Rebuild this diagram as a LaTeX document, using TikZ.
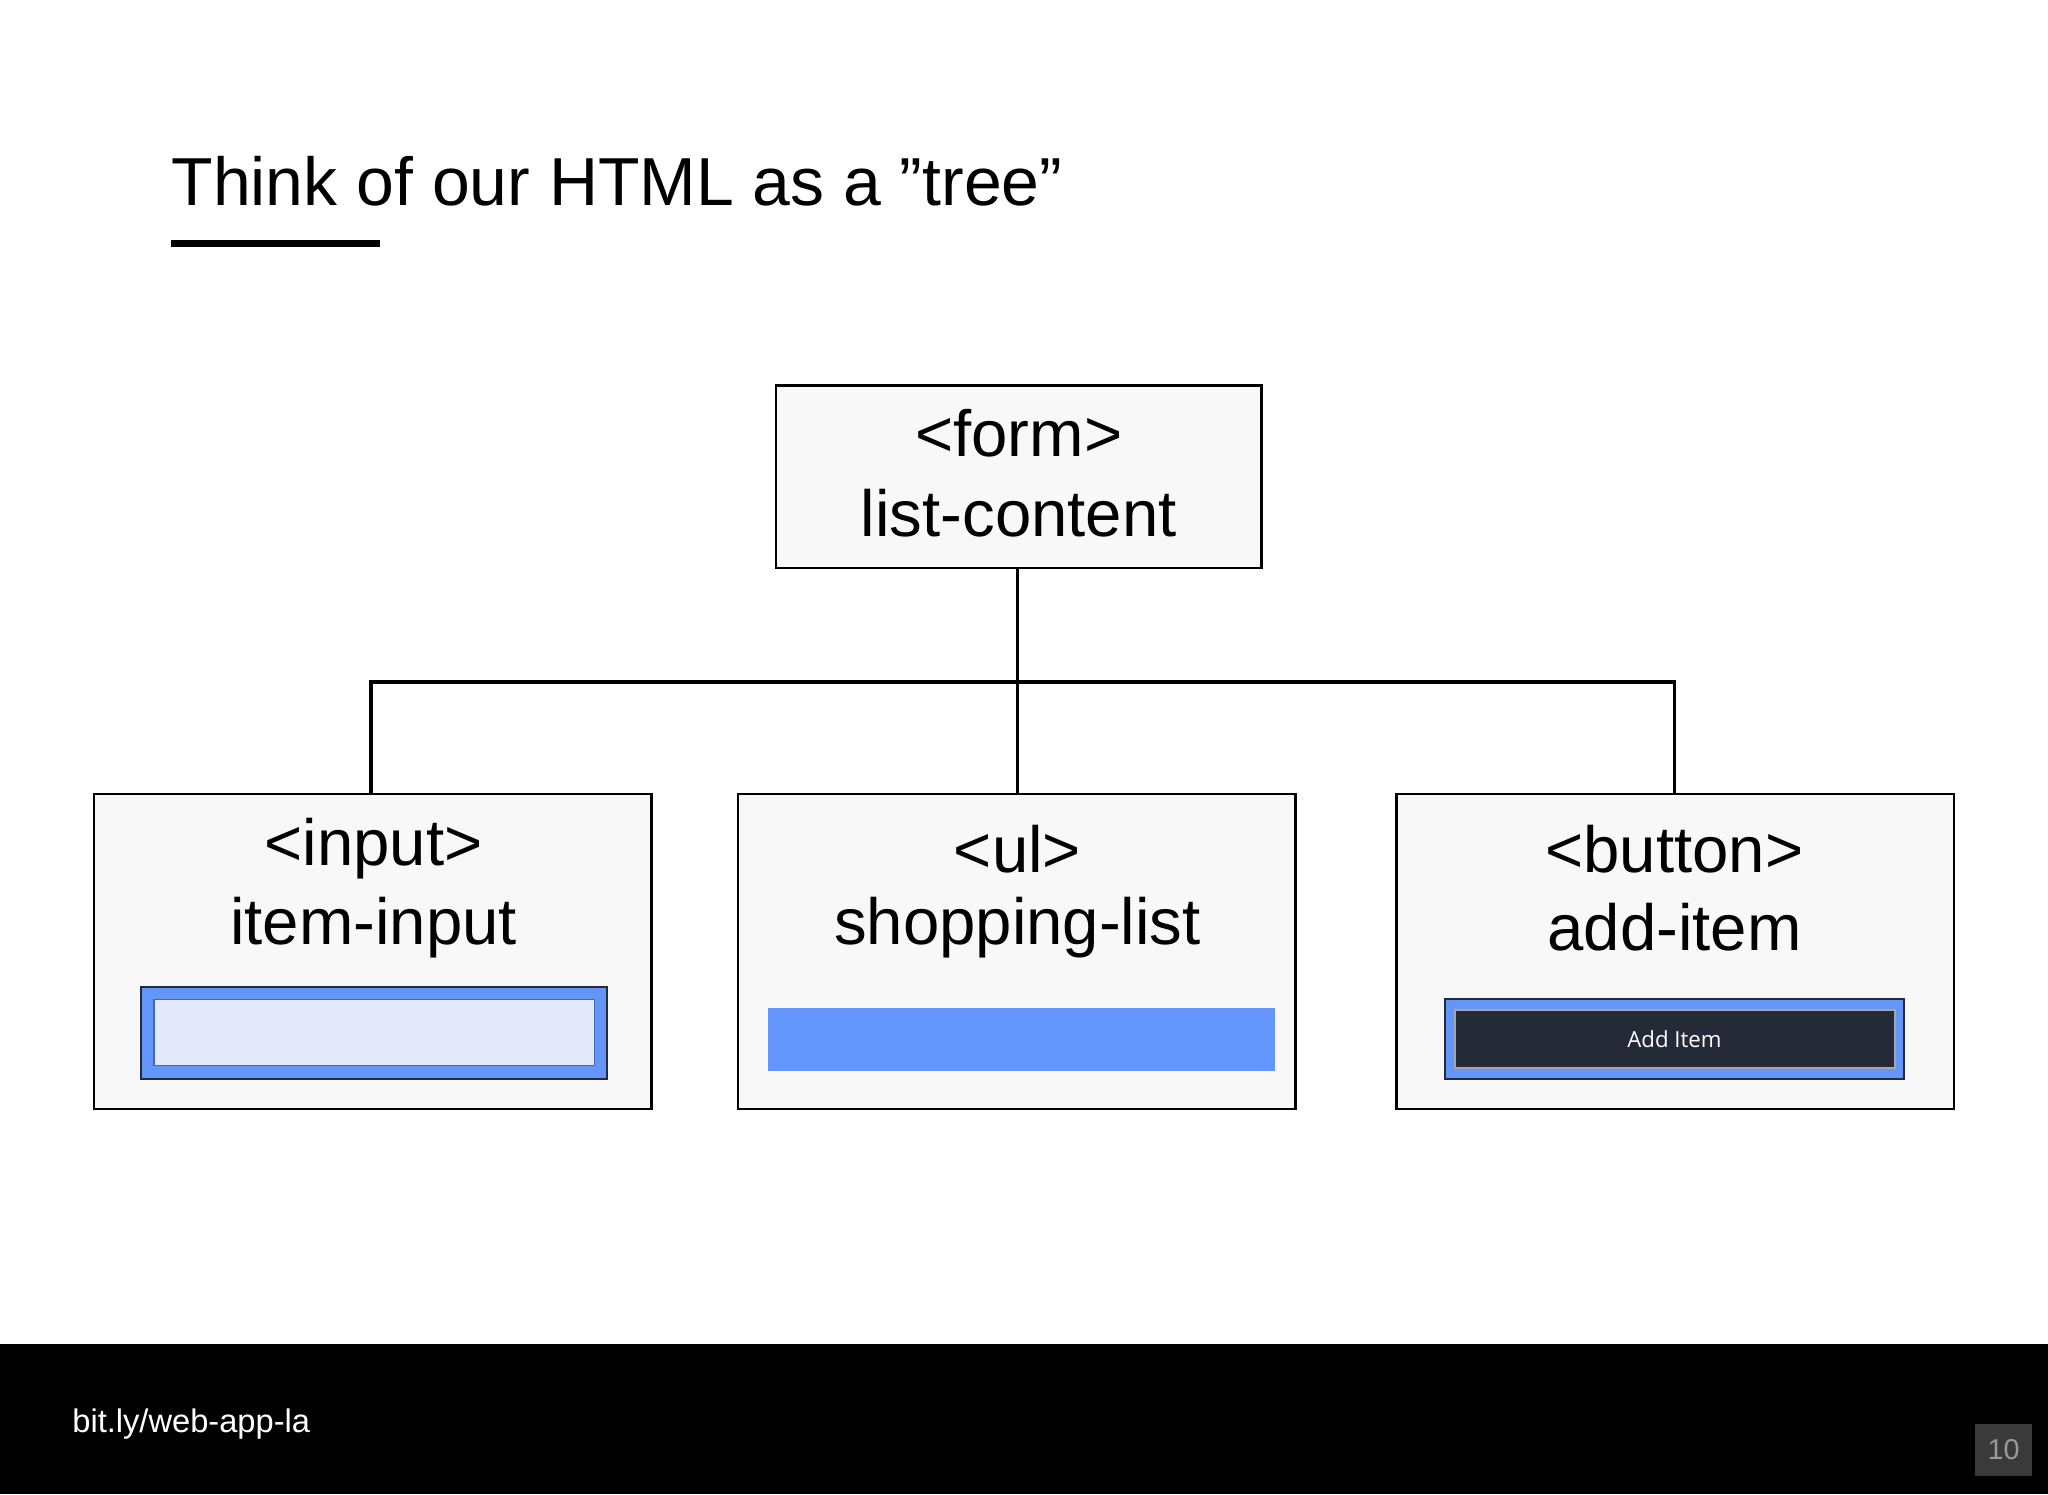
\documentclass[tikz,border=0pt]{standalone}
\usepackage{fontspec}
\setmainfont{Liberation Sans}
\newfontfamily\btnfont{Open Sans}
\definecolor{boxfill}{HTML}{F7F8F7}
\definecolor{blu}{HTML}{6495FA}
\definecolor{lightblu}{HTML}{E3E9FB}
\definecolor{dark}{HTML}{242A38}
\definecolor{pgnum}{HTML}{3A3A3A}
\tikzset{
 elbox/.style={draw=black,fill=boxfill,line width=1pt},
 lbl/.style={font=\fontsize{25}{30}\selectfont,align=center,inner sep=0},
 conn/.style={line width=1.5pt}
}
\begin{document}
\begin{tikzpicture}[x=0.5pt,y=-0.5pt]
\useasboundingbox (0,0) rectangle (1568,1144);
\fill[white] (0,0) rectangle (1568,1144);
\node[anchor=base west,inner sep=0,font=\fontsize{26}{30}\selectfont] (title) at (131,157) {Think of our HTML as a "tree"};
\fill (131,183.5) rectangle (291,189);
% form
\draw[elbox] (594,295) rectangle (966,435);
\node[lbl] (form) at (780,365) {};
\node[lbl] at (780,332) {<form>};
\node[lbl] at (780,393) {list-content};
% children
\draw[elbox] (72,608) rectangle (499,849);
\draw[elbox] (565,608) rectangle (992,849);
\draw[elbox] (1069,608) rectangle (1496,849);
\coordinate (ftop) at (779,435);
\coordinate (j) at (779,522);
\coordinate (c1) at (284,608);
\coordinate (c2) at (779,608);
\coordinate (c3) at (1282,608);
\draw[conn] (ftop) -- (j);
\draw[conn] (c1) |- (c3 |- j) -- (c3);
\draw[conn] (j) -- (c2);
\node[lbl] at (286,650) {<input>};
\node[lbl] at (286,710) {item-input};
\node[lbl] at (779,650) {<ul>};
\node[lbl] at (779,710) {shopping-list};
\node[lbl] at (1282,650) {<button>};
\node[lbl] at (1282,710) {add-item};
% input widget
\draw[fill=blu,draw=dark,line width=0.8pt] (108,756) rectangle (465,826);
\draw[fill=lightblu,draw=blu!70!black,line width=0.5pt] (118,765) rectangle (455,816);
% ul bar
\fill[blu] (588,772) rectangle (976,820);
% button
\draw[fill=blu,draw=dark,line width=0.8pt] (1106,765) rectangle (1458,826);
\draw[fill=dark,draw=gray!70,line width=0.8pt] (1114,773) rectangle (1451,818);
\node[text=white,font=\btnfont\fontsize{8.5}{10}\selectfont] (btn) at (1282,795.5) {Add Item};
% footer
\fill[black] (0,1029) rectangle (1568,1144);
\node[anchor=west,text=white,inner sep=0,font=\fontsize{12.5}{15}\selectfont] (url) at (55,1090) {bit.ly/web-app-la};
\fill[pgnum] (1512,1090) rectangle (1556,1130);
\node[text=gray!80,font=\fontsize{11}{13}\selectfont] (pg) at (1534,1110) {10};
\end{tikzpicture}
\end{document}
